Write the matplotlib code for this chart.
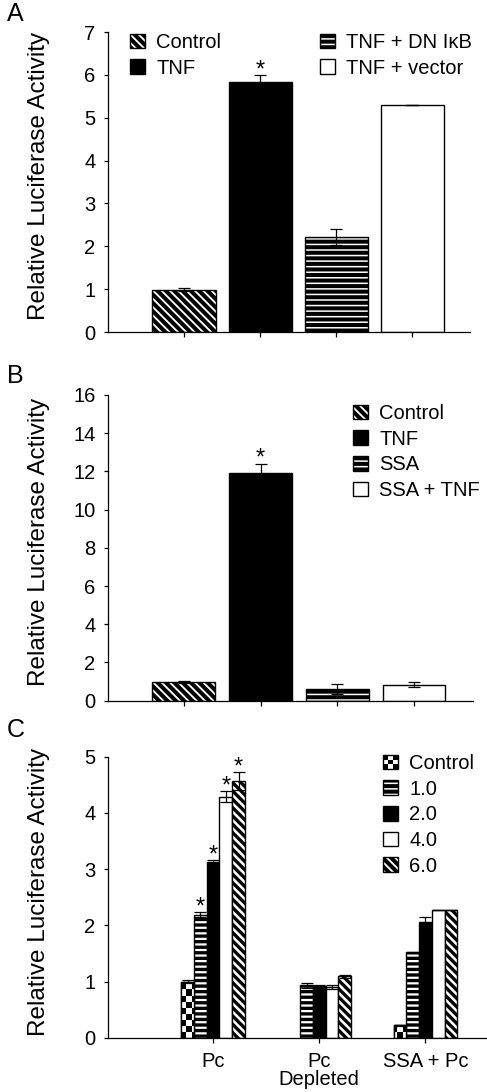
import numpy as np
import matplotlib
matplotlib.use("Agg")
import matplotlib.pyplot as plt
from matplotlib.patches import Patch, Rectangle
from matplotlib.legend_handler import HandlerBase

plt.rcParams['font.family'] = ['Liberation Sans', 'DejaVu Sans']
plt.rcParams['hatch.linewidth'] = 2.9

# ---------------- data ----------------
A_categories = ['Control', 'TNF', 'TNF + DN IκB', 'TNF + vector']
A_values = [0.99, 5.84, 2.22, 5.30]
A_errors = [0.03, 0.16, 0.18, 0.0]
A_sig = [False, True, False, False]

B_categories = ['Control', 'TNF', 'SSA', 'SSA + TNF']
B_values = [0.98, 11.93, 0.60, 0.84]
B_errors = [0.03, 0.48, 0.26, 0.12]
B_sig = [False, True, False, False]

C_groups = ['Pc', 'Pc\nDepleted', 'SSA + Pc']
C_series = ['Control', '1.0', '2.0', '4.0', '6.0']
C_control = [1.00, np.nan, 0.22]
C_1 = [2.19, 0.93, 1.52]
C_2 = [3.12, 0.92, 2.05]
C_4 = [4.29, 0.90, 2.27]
C_6 = [4.56, 1.09, 2.28]
C_control_err = [0.02, np.nan, 0.01]
C_1_err = [0.05, 0.04, 0.01]
C_2_err = [0.04, 0.01, 0.09]
C_4_err = [0.10, 0.04, 0.0]
C_6_err = [0.16, 0.02, 0.0]
C_sig = [[False, False, False], [True, False, False], [True, False, False],
         [True, False, False], [True, False, False]]

W, H = 487, 1092
fig = plt.figure(figsize=(W / 100, H / 100), dpi=100)


def ax_rect(l, r, top, bottom):
    return [l / W, 1 - bottom / H, (r - l) / W, (bottom - top) / H]


FS_TICK = 14.5
FS_LAB = 17.5
FS_LEG = 14.5

STYLES = {
    'diag': dict(facecolor='white', hatch='\\\\\\\\'),
    'solid': dict(facecolor='black', hatch=None),
    'horiz': dict(facecolor='white', hatch='---'),
    'white': dict(facecolor='white', hatch=None),
}


def style_axes(ax, ylim, yticks):
    for s in ['top', 'right']:
        ax.spines[s].set_visible(False)
    for s in ['left', 'bottom']:
        ax.spines[s].set_linewidth(0.9)
    ax.set_ylim(*ylim)
    ax.set_yticks(yticks)
    ax.tick_params(axis='y', direction='out', length=3, width=0.9, pad=6, labelsize=FS_TICK)
    ax.tick_params(axis='x', direction='out', length=3.5, width=0.9, labelsize=FS_TICK)
    ax.set_ylabel('Relative Luciferase Activity', fontsize=FS_LAB)


def add_star(ax, x, y):
    ax.annotate('*', xy=(x, y), xytext=(0, -1), textcoords='offset points',
                ha='center', va='baseline', fontsize=17)


def bar_group(ax, x, vals, errs, width, style, hlw):
    st = STYLES[style]
    bars = ax.bar(x, vals, width=width, facecolor=st['facecolor'], edgecolor='black',
                  linewidth=1.0, hatch=st['hatch'], zorder=2)
    for p in bars:
        if hasattr(p, 'set_hatch_linewidth'):
            p.set_hatch_linewidth(hlw)
    ax.errorbar(x, vals, yerr=errs, fmt='none', ecolor='black', elinewidth=0.9,
                capsize=4, capthick=0.9, zorder=3)
    return bars


def legend_patch(style, hlw):
    st = STYLES[style]
    p = Patch(facecolor=st['facecolor'], edgecolor='black', hatch=st['hatch'], linewidth=1.0)
    if hasattr(p, 'set_hatch_linewidth'):
        p.set_hatch_linewidth(hlw)
    return p


LEGKW = dict(frameon=False, fontsize=FS_LEG, handlelength=0.75, handleheight=0.75,
             handletextpad=0.55, labelspacing=0.33, borderpad=0, borderaxespad=0,
             loc='upper left', bbox_transform=fig.transFigure)

# ---------------- Panel A ----------------
axA = fig.add_axes(ax_rect(108, 470, 32, 332))
xA = np.arange(len(A_categories))
stylesA = ['diag', 'solid', 'horiz', 'white']
for i, v in enumerate(A_values):
    bar_group(axA, [xA[i]], [v], [A_errors[i]], 0.83, stylesA[i], 2.9)
    if A_sig[i]:
        add_star(axA, xA[i], v + A_errors[i])
style_axes(axA, (0, 7), range(0, 8))
axA.set_xlim(-1.0, 3.76)
axA.set_xticks(xA)
axA.set_xticklabels([])
hA = [legend_patch(s, 2.9) for s in stylesA]
legA1 = axA.legend(hA[:2], A_categories[:2], bbox_to_anchor=(130 / W, 1 - 33 / H), **LEGKW)
axA.add_artist(legA1)
axA.legend(hA[2:], A_categories[2:], bbox_to_anchor=(320 / W, 1 - 33 / H), **LEGKW)

# ---------------- Panel B ----------------
axB = fig.add_axes(ax_rect(108, 473, 395, 700.7))
xB = np.arange(len(B_categories))
stylesB = ['diag', 'solid', 'horiz', 'white']
for i, v in enumerate(B_values):
    bar_group(axB, [xB[i]], [v], [B_errors[i]], 0.82, stylesB[i], 2.9)
    if B_sig[i]:
        add_star(axB, xB[i], v + B_errors[i])
style_axes(axB, (0, 16), range(0, 17, 2))
axB.set_xlim(-0.99, 3.77)
axB.set_xticks(xB)
axB.set_xticklabels([])
hB = [legend_patch(s, 2.9) for s in stylesB]
axB.legend(hB, B_categories, bbox_to_anchor=(353 / W, 1 - 404 / H), **LEGKW)

# ---------------- Panel C ----------------
axC = fig.add_axes(ax_rect(108, 487, 756.7, 1037.7))
xC = np.arange(len(C_groups))
bw = 0.12
C_vals = [C_control, C_1, C_2, C_4, C_6]
C_errs = [C_control_err, C_1_err, C_2_err, C_4_err, C_6_err]
stylesC = ['white', 'horiz', 'solid', 'white', 'diag']
ctrl_bars = None
for k in range(5):
    xs = xC + (k - 2) * bw
    b = bar_group(axC, xs, C_vals[k], C_errs[k], bw, stylesC[k], 2.4)
    if k == 0:
        ctrl_bars = (xs, b)
    for j in range(len(C_groups)):
        if C_sig[k][j]:
            add_star(axC, xs[j], C_vals[k][j] + C_errs[k][j])

# checkerboard fill for Control bars
ny, nx = 47, 63
checker = (np.add.outer(np.arange(ny), np.arange(nx)) % 2).astype(float)
xs, bars = ctrl_bars
for p in bars:
    im = axC.imshow(checker, cmap='gray', interpolation='nearest', aspect='auto',
                    extent=(0, 1, 0, 1), transform=axC.transAxes, zorder=2.1)
    im.set_clip_path(p)
axC.bar(xs, C_control, width=bw, fill=False, edgecolor='black', linewidth=1.0, zorder=2.2)

style_axes(axC, (0, 5), range(0, 6))
axC.set_xlim(-0.99, 2.58)
axC.set_xticks(xC)
axC.set_xticklabels(C_groups, linespacing=0.9)
axC.tick_params(axis='x', pad=7)


class CheckerHandler(HandlerBase):
    def create_artists(self, legend, orig_handle, xdescent, ydescent, width, height,
                       fontsize, trans):
        arts = [Rectangle((-xdescent, -ydescent), width, height, facecolor='white',
                          edgecolor='black', linewidth=1.0, transform=trans)]
        n = 3
        cw, ch = width / n, height / n
        for i in range(n):
            for j in range(n):
                if (i + j) % 2 == 0:
                    arts.append(Rectangle((-xdescent + i * cw, -ydescent + j * ch), cw, ch,
                                          facecolor='black', edgecolor='none', transform=trans))
        return arts


class CheckerProxy:
    pass


hC = [CheckerProxy()] + [legend_patch(s, 2.4) for s in stylesC[1:]]
axC.legend(hC, C_series, bbox_to_anchor=(383 / W, 1 - 754 / H),
           handler_map={CheckerProxy: CheckerHandler()}, **LEGKW)

for ax in (axA, axB, axC):
    w_px = ax.get_position().width * W
    ax.yaxis.set_label_coords(-58 / w_px, 0.52)

# panel letters
fig.text(7 / W, 1 - 21 / H, 'A', fontsize=18, va='baseline', ha='left')
fig.text(7 / W, 1 - 383 / H, 'B', fontsize=18, va='baseline', ha='left')
fig.text(7 / W, 1 - 737 / H, 'C', fontsize=18, va='baseline', ha='left')

fig.savefig('out.png', dpi=100)
